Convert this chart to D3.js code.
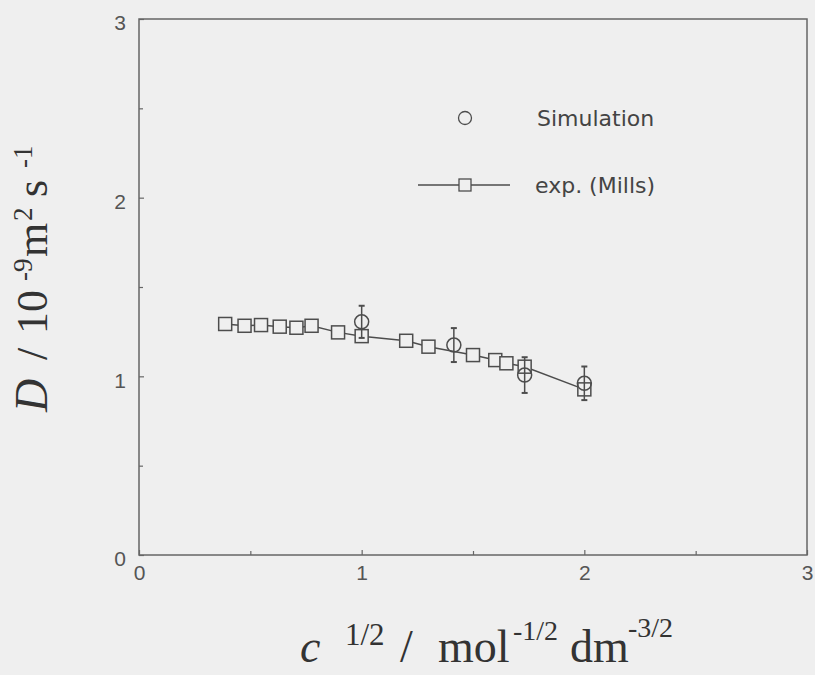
<!DOCTYPE html>
<html>
<head>
<meta charset="utf-8">
<script src="https://cdn.jsdelivr.net/npm/d3@7"></script>
<style>
  html, body { margin: 0; padding: 0; background: #efefef; }
  svg { display: block; }
</style>
</head>
<body>
<svg id="chart" width="815" height="675"></svg>
<script>
// exp. (Mills) data
const expX = [0.387, 0.474, 0.548, 0.632, 0.707, 0.775, 0.894, 1.0, 1.2, 1.3, 1.5, 1.6, 1.65, 1.732, 2.0];
const expY = [1.293, 1.283, 1.287, 1.278, 1.272, 1.283, 1.246, 1.225, 1.199, 1.166, 1.119, 1.091, 1.073, 1.054, 0.927];

// simulation data with error bars
const simX = [1.0, 1.414, 1.732, 2.0];
const simY = [1.305, 1.175, 1.007, 0.961];
const simErr = [0.09, 0.095, 0.1, 0.094];

const majorTicks = [0, 1, 2, 3];
const minorTicks = [0.5, 1.5, 2.5];

const legendNames = ["Simulation", "exp. (Mills)"];

const ink = "#4d4d4d";
const svg = d3.select("#chart");

const x = d3.scaleLinear().domain([0, 3]).range([139, 807]);
const y = d3.scaleLinear().domain([0, 3]).range([555, 19]);

svg.append("rect")
  .attr("width", 815).attr("height", 675)
  .attr("fill", "#efefef");

// frame
svg.append("rect")
  .attr("x", x(0)).attr("y", y(3))
  .attr("width", x(3) - x(0)).attr("height", y(0) - y(3))
  .attr("fill", "none")
  .attr("stroke", "#666")
  .attr("stroke-width", 1.5);

const tickFont = g => g.selectAll("text")
  .attr("font-family", "'Liberation Sans', Arial, sans-serif")
  .attr("font-size", 21)
  .attr("fill", "#555");

const xAxis = svg.append("g")
  .attr("transform", `translate(0,${y(0)})`)
  .call(d3.axisBottom(x).tickValues(majorTicks).tickFormat(d3.format("d"))
    .tickSize(-5).tickPadding(10));
xAxis.call(tickFont);
xAxis.select(".domain").remove();
xAxis.selectAll("line").attr("stroke", "#666").attr("stroke-width", 1.2);

svg.append("g")
  .attr("transform", `translate(0,${y(0)})`)
  .call(d3.axisBottom(x).tickValues(minorTicks).tickFormat("").tickSize(-4))
  .call(g => g.select(".domain").remove())
  .selectAll("line").attr("stroke", "#666").attr("stroke-width", 1.2);

const yAxis = svg.append("g")
  .attr("transform", `translate(${x(0)},0)`)
  .call(d3.axisLeft(y).tickValues(majorTicks).tickFormat(d3.format("d"))
    .tickSize(-5).tickPadding(13));
yAxis.call(tickFont);
yAxis.selectAll("text").attr("dy", "0.52em");
yAxis.select(".domain").remove();
yAxis.selectAll("line").attr("stroke", "#666").attr("stroke-width", 1.2);

svg.append("g")
  .attr("transform", `translate(${x(0)},0)`)
  .call(d3.axisLeft(y).tickValues(minorTicks).tickFormat("").tickSize(-4))
  .call(g => g.select(".domain").remove())
  .selectAll("line").attr("stroke", "#666").attr("stroke-width", 1.2);

// exp line
const expData = expX.map((v, i) => ({ x: v, y: expY[i] }));
const simData = simX.map((v, i) => ({ x: v, y: simY[i], e: simErr[i] }));

svg.append("path")
  .datum(expData)
  .attr("fill", "none")
  .attr("stroke", ink)
  .attr("stroke-width", 1.5)
  .attr("d", d3.line().x(d => x(d.x)).y(d => y(d.y)));

const sq = 13;
svg.append("g")
  .selectAll("rect")
  .data(expData)
  .join("rect")
  .attr("x", d => x(d.x) - sq / 2)
  .attr("y", d => y(d.y) - sq / 2)
  .attr("width", sq).attr("height", sq)
  .attr("fill", "#efefef")
  .attr("stroke", ink)
  .attr("stroke-width", 1.5);

// error bars
const bars = svg.append("g").attr("stroke", ink).attr("stroke-width", 1.5);
bars.selectAll("line.v")
  .data(simData)
  .join("line")
  .attr("class", "v")
  .attr("x1", d => x(d.x)).attr("x2", d => x(d.x))
  .attr("y1", d => y(d.y + d.e)).attr("y2", d => y(d.y - d.e));
bars.selectAll("line.cap")
  .data(simData.flatMap(d => [{ x: d.x, y: d.y + d.e }, { x: d.x, y: d.y - d.e }]))
  .join("line")
  .attr("class", "cap")
  .attr("stroke-width", 2)
  .attr("x1", d => x(d.x) - 3).attr("x2", d => x(d.x) + 3)
  .attr("y1", d => y(d.y)).attr("y2", d => y(d.y));

svg.append("g")
  .selectAll("circle")
  .data(simData)
  .join("circle")
  .attr("cx", d => x(d.x))
  .attr("cy", d => y(d.y))
  .attr("r", 7)
  .attr("fill", "none")
  .attr("stroke", ink)
  .attr("stroke-width", 1.5);

// legend
const legFont = "'DejaVu Sans', Verdana, sans-serif";
svg.append("circle")
  .attr("cx", 465).attr("cy", 118).attr("r", 6.5)
  .attr("fill", "none").attr("stroke", ink).attr("stroke-width", 1.3);
svg.append("text")
  .attr("x", 537).attr("y", 126)
  .attr("font-family", legFont).attr("font-size", 22).attr("fill", "#444")
  .text(legendNames[0]);
svg.append("line")
  .attr("x1", 418).attr("x2", 510).attr("y1", 185).attr("y2", 185)
  .attr("stroke", ink).attr("stroke-width", 1.5);
svg.append("rect")
  .attr("x", 465 - 6).attr("y", 185 - 6).attr("width", 12).attr("height", 12)
  .attr("fill", "#efefef").attr("stroke", ink).attr("stroke-width", 1.3);
svg.append("text")
  .attr("x", 535).attr("y", 193)
  .attr("font-family", legFont).attr("font-size", 22).attr("fill", "#444")
  .text(legendNames[1]);

// axis titles
const serif = "'Liberation Serif', 'Times New Roman', serif";
const placePieces = (g, pieces) => {
  pieces.forEach(p => {
    g.append("text")
      .attr("x", p.at).attr("y", p.base)
      .attr("font-family", serif)
      .attr("font-size", p.size)
      .attr("font-style", p.italic ? "italic" : "normal")
      .attr("fill", "#333")
      .text(p.t);
  });
};

const xt = svg.append("g");
placePieces(xt, [
  { t: "c", at: 300, base: 662, size: 46, italic: true },
  { t: "1/2", at: 345, base: 645, size: 31 },
  { t: "/", at: 400, base: 662, size: 46 },
  { t: "mol", at: 438, base: 662, size: 46 },
  { t: "-1/2", at: 513, base: 640, size: 28 },
  { t: "dm", at: 570, base: 662, size: 46 },
  { t: "-3/2", at: 628, base: 637, size: 28 }
]);

const yt = svg.append("g").attr("transform", "translate(47,0) rotate(-90)");
placePieces(yt, [
  { t: "D", at: -412, base: 0, size: 46, italic: true },
  { t: "/", at: -360, base: 0, size: 44 },
  { t: "10", at: -334, base: 0, size: 44 },
  { t: "-9", at: -281, base: -15, size: 27 },
  { t: "m", at: -257, base: 0, size: 44 },
  { t: "2", at: -221, base: -15, size: 27 },
  { t: "s", at: -197, base: 0, size: 44 },
  { t: "-1", at: -168, base: -15, size: 27 }
]);
</script>
</body>
</html>
